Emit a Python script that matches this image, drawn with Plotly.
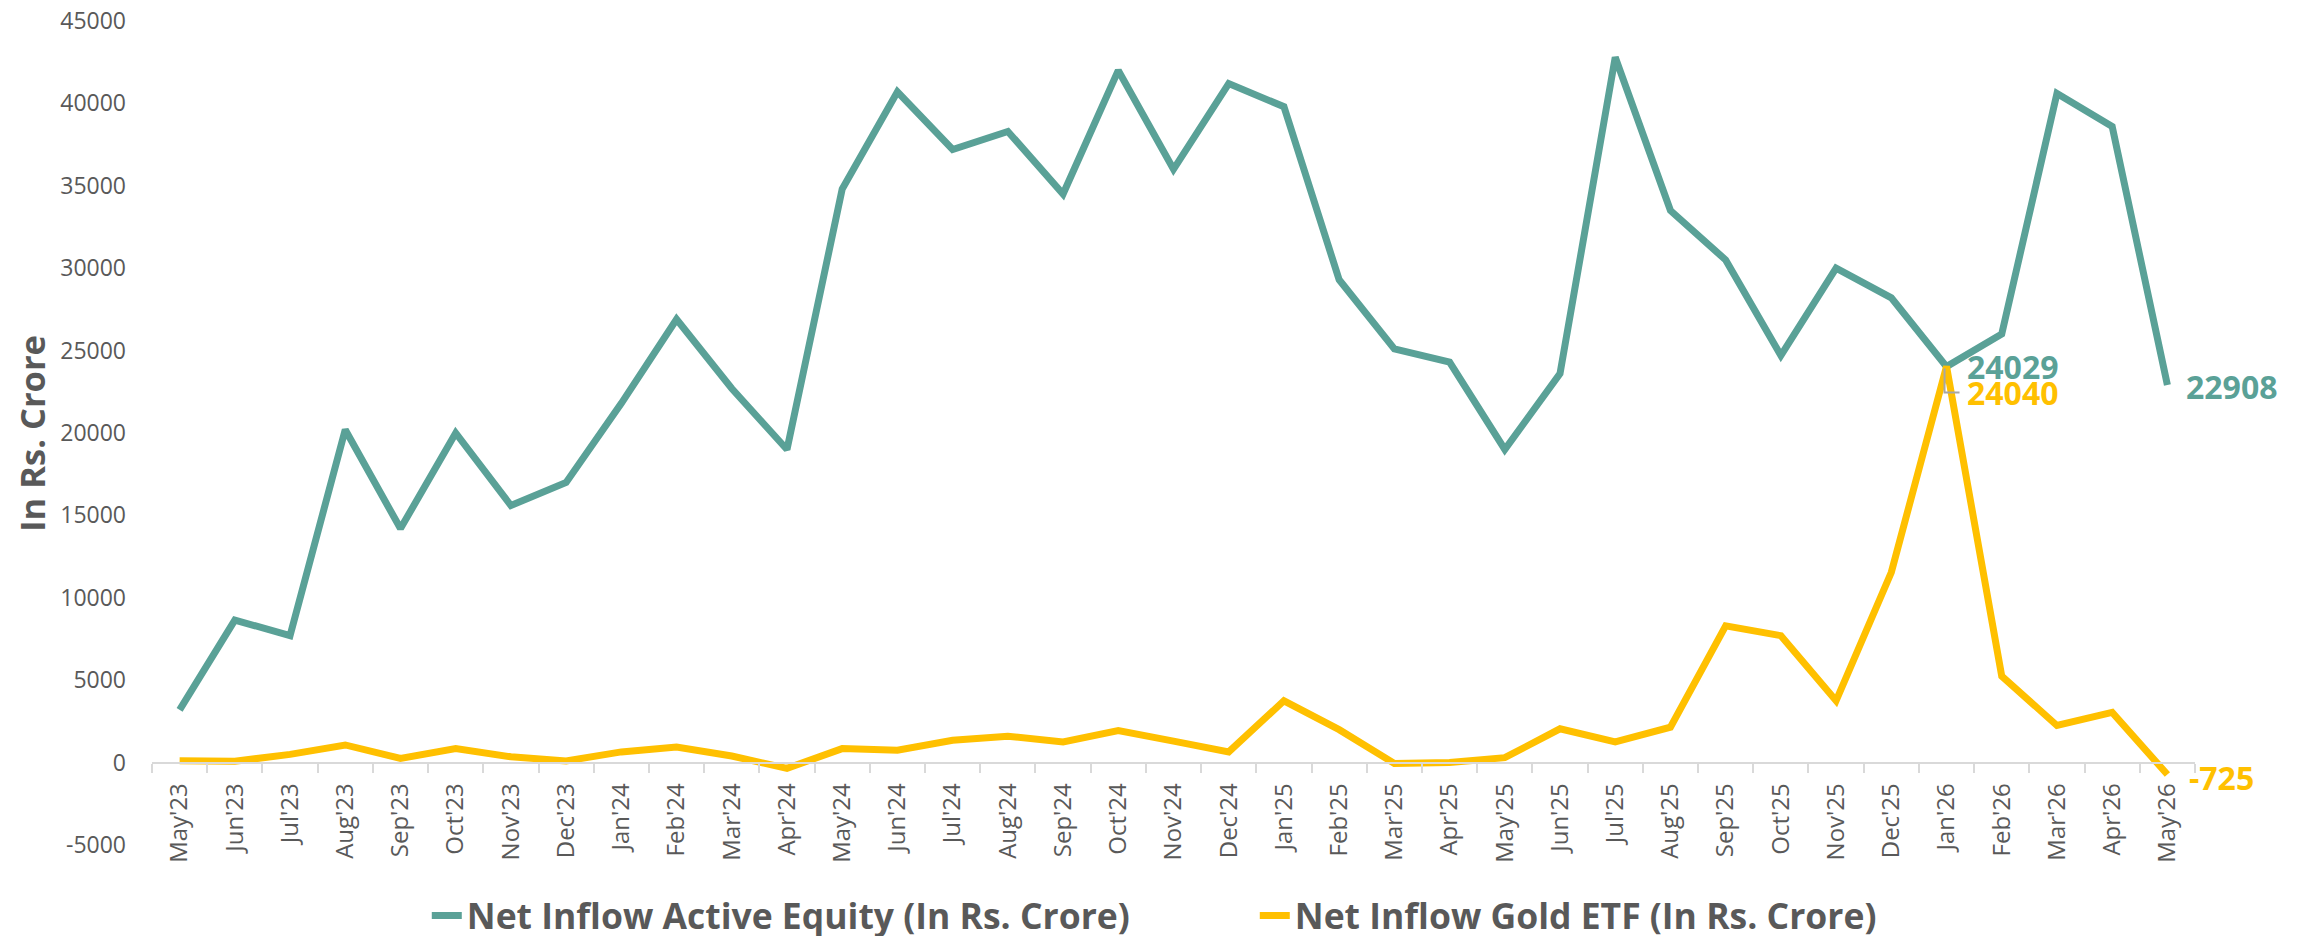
import plotly.graph_objects as go

months = ["May'23", "Jun'23", "Jul'23", "Aug'23", "Sep'23", "Oct'23", "Nov'23", "Dec'23",
          "Jan'24", "Feb'24", "Mar'24", "Apr'24", "May'24", "Jun'24", "Jul'24", "Aug'24",
          "Sep'24", "Oct'24", "Nov'24", "Dec'24", "Jan'25", "Feb'25", "Mar'25", "Apr'25",
          "May'25", "Jun'25", "Jul'25", "Aug'25", "Sep'25", "Oct'25", "Nov'25", "Dec'25",
          "Jan'26", "Feb'26", "Mar'26", "Apr'26", "May'26"]

equity = [3200, 8650, 7700, 20200, 14200, 20000, 15600, 17000, 21800, 26900, 22700, 19000,
          34800, 40700, 37200, 38300, 34500, 42000, 36000, 41200, 39800, 29300, 25100, 24300,
          19000, 23600, 42800, 33500, 30500, 24700, 30000, 28200, 24029, 26000, 40600, 38600,
          22908]

gold = [110, 80, 500, 1070, 250, 850, 350, 100, 650, 950, 400, -350, 850, 750, 1350, 1600,
        1250, 1950, 1300, 650, 3750, 2000, -50, 0, 300, 2050, 1250, 2150, 8300, 7700, 3750,
        11550, 24040, 5250, 2250, 3050, -725]

y_ticks = [-5000, 0, 5000, 10000, 15000, 20000, 25000, 30000, 35000, 40000, 45000]

equity_name = "Net Inflow Active Equity (In Rs. Crore)"
gold_name = "Net Inflow Gold ETF (In Rs. Crore)"
y_title = "In Rs. Crore"

TEAL = "#5AA197"
GOLD = "#FFC000"
GREY = "#595959"
FONT = "Open Sans"

fig = go.Figure()
fig.add_trace(go.Scatter(x=months, y=equity, mode="lines", name=equity_name,
                         line=dict(color=TEAL, width=7), cliponaxis=False))
fig.add_trace(go.Scatter(x=months, y=gold, mode="lines", name=gold_name,
                         line=dict(color=GOLD, width=7), cliponaxis=False))

i_jan = months.index("Jan'26")
i_last = len(months) - 1

annos = [
    dict(x=months[i_jan], y=equity[i_jan], text=str(equity[i_jan]), color=TEAL, xshift=18, yshift=0),
    dict(x=months[i_jan], y=gold[i_jan], text=str(gold[i_jan]), color=GOLD, xshift=18, yshift=-26),
    dict(x=months[i_last], y=equity[i_last], text=str(equity[i_last]), color=TEAL, xshift=17, yshift=-1),
    dict(x=months[i_last], y=gold[i_last], text=str(gold[i_last]), color=GOLD, xshift=20, yshift=-3),
]
for a in annos:
    fig.add_annotation(x=a["x"], y=a["y"], xref="x", yref="y", text=f"<b>{a['text']}</b>",
                       showarrow=False, xanchor="left", yanchor="middle",
                       xshift=a["xshift"], yshift=a["yshift"],
                       font=dict(family=FONT, size=32, color=a["color"]))

# leader line for the gold label
fig.add_shape(type="path", xref="x", yref="y", xsizemode="pixel", ysizemode="pixel",
              xanchor=i_jan, yanchor=gold[i_jan], path="M -2,-2 L -2,-26 L 13,-26",
              line=dict(color="#A6A6A6", width=2))

fig.add_annotation(x=-0.0593, y=0.5, xref="paper", yref="paper", text=f"<b>{y_title}</b>",
                   showarrow=False, textangle=-90, xanchor="center", yanchor="middle",
                   font=dict(family=FONT, size=34.5, color=GREY))

fig.update_layout(
    width=2312, height=936,
    margin=dict(l=144, r=125, t=13, b=99, autoexpand=False),
    paper_bgcolor="white", plot_bgcolor="white",
    font=dict(family=FONT, color=GREY),
    showlegend=True,
    legend=dict(orientation="h", x=0.1345, xanchor="left",
                yref="container", y=0.030, yanchor="middle",
                font=dict(family=FONT, size=35.5, color=GREY, weight="bold"),
                entrywidth=783, entrywidthmode="pixels", bgcolor="rgba(0,0,0,0)"),
    xaxis=dict(type="category", categoryorder="array", categoryarray=months,
               range=[-0.5, len(months) - 0.5],
               anchor="free", position=0.1,
               showline=True, linecolor="#D9D9D9", linewidth=2,
               ticks="outside", ticklen=9, tickwidth=2, tickcolor="#D9D9D9",
               tickson="boundaries", tickangle=-90,
               ticklabelstandoff=10,
               tickfont=dict(family=FONT, size=24, color=GREY),
               showgrid=False, zeroline=False, fixedrange=True),
    yaxis=dict(range=[-5000, 45000], tickmode="array", tickvals=y_ticks,
               ticktext=[str(v) for v in y_ticks],
               showgrid=False, zeroline=False, showline=False, ticks="",
               ticklabelstandoff=25, ticklabeloverflow="allow",
               tickfont=dict(family=FONT, size=23, color=GREY)),
)

fig.write_html("out.html")
